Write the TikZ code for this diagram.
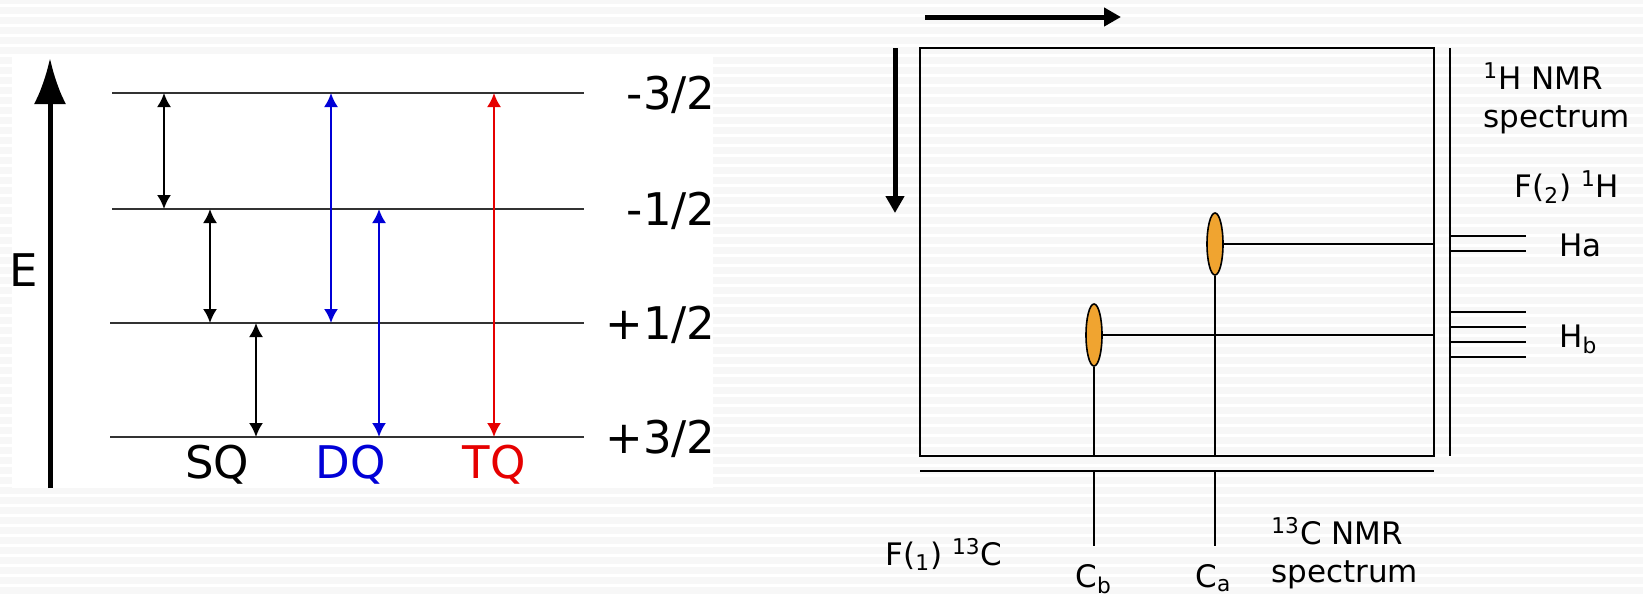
\documentclass[tikz,border=0pt]{standalone}
\usepackage{fontspec}
\setmainfont{DejaVu Sans}
\usetikzlibrary{arrows.meta,shapes.geometric}

\definecolor{stripe}{HTML}{F7F7F7}
\definecolor{lvgray}{HTML}{333333}
\definecolor{dqblue}{RGB}{0,0,215}
\definecolor{tqred}{RGB}{230,0,0}
\definecolor{peakorange}{HTML}{F0A430}

\tikzset{
  level/.style={lvgray,line width=1pt},
  trans/.style={<->,line width=1pt},
  lvlabel/.style={font=\fontsize{22.5}{27}\selectfont,inner sep=0pt},
  spec/.style={font=\fontsize{15.5}{19}\selectfont,inner sep=0pt,align=left},
  peak/.style={ellipse,draw,line width=0.8pt,fill=peakorange,minimum width=8pt,minimum height=31pt,inner sep=0pt},
  thickarrow/.style={line width=2.5pt,-{Triangle[length=8.5pt,width=9pt]}},
}

\begin{document}
\begin{tikzpicture}[>={Latex[length=7pt,width=7pt]},x=0.5pt,y=-0.5pt]
  \useasboundingbox (0,0) rectangle (1643,596);
  % striped background
  \fill[stripe] (0,0) rectangle (1643,596);
  \foreach \y in {5,15,...,595}{\draw[white,line width=1.5pt] (0,\y) -- (1643,\y);}

  % Energy levels with single, double and triple quantum transitions
  \begin{scope}
    \fill[white] (12,56) rectangle (713,488);
    \coordinate (ebot) at (50,488);
    \coordinate (etop) at (50,58);
    \draw[line width=2.5pt,-{Latex[length=23pt,width=16pt]}] (ebot) -- (etop);
    \node[lvlabel] (E) at (24,270) {E};
    \coordinate (lv1) at (112,93);
    \coordinate (lv2) at (112,209);
    \coordinate (lv3) at (110,323);
    \coordinate (lv4) at (110,437);
    \draw[level] (lv1) -- (584,93);
    \draw[level] (lv2) -- (584,209);
    \draw[level] (lv3) -- (584,323);
    \draw[level] (lv4) -- (584,437);
    \node[lvlabel,anchor=base east] (m32) at (716,109) {-3/2};
    \node[lvlabel,anchor=base east] (m12) at (716,225) {-1/2};
    \node[lvlabel,anchor=base east] (p12) at (716,339) {+1/2};
    \node[lvlabel,anchor=base east] (p32) at (716,453) {+3/2};
    \coordinate (sq1) at (164,0);
    \coordinate (sq2) at (210,0);
    \coordinate (sq3) at (256,0);
    \coordinate (dq1) at (331,0);
    \coordinate (dq2) at (379,0);
    \coordinate (tq1) at (494,0);
    \draw[trans] (sq1 |- lv1) -- (sq1 |- lv2);
    \draw[trans] (sq2 |- lv2) -- (sq2 |- lv3);
    \draw[trans] (sq3 |- lv3) -- (sq3 |- lv4);
    \draw[trans,dqblue] (dq1 |- lv1) -- (dq1 |- lv3);
    \draw[trans,dqblue] (dq2 |- lv2) -- (dq2 |- lv4);
    \draw[trans,tqred] (tq1 |- lv1) -- (tq1 |- lv4);
    \node[lvlabel,anchor=base] (SQ) at (217,478) {SQ};
    \node[lvlabel,anchor=base,dqblue] (DQ) at (351,478) {DQ};
    \node[lvlabel,anchor=base,tqred] (TQ) at (494,478) {TQ};
  \end{scope}

  % HSQC type 2D map
  \begin{scope}
    \coordinate (harr) at (925,17);
    \coordinate (harrend) at (1121,17);
    \coordinate (varr) at (895,48);
    \coordinate (varrend) at (895,213);
    \draw[thickarrow] (harr) -- (harrend);
    \draw[thickarrow] (varr) -- (varrend);
    \coordinate (boxnw) at (920,48);
    \coordinate (boxse) at (1434,456);
    \draw[line width=1.2pt] (boxnw) rectangle (boxse);
    \coordinate (haxtop) at (1450,48);
    \coordinate (haxbot) at (1450,456);
    \draw[line width=1pt] (haxtop) -- (haxbot);
    \coordinate (caxl) at (920,471);
    \coordinate (caxr) at (1434,471);
    \draw[line width=1pt] (caxl) -- (caxr);
    % cross peaks
    \node[peak] (pa) at (1215,244) {};
    \node[peak] (pb) at (1094,335) {};
    \draw[line width=0.9pt] (pa.east) -- (pa.east -| boxse);
    \draw[line width=0.9pt] (pb.east) -- (pb.east -| boxse);
    \draw[line width=0.9pt] (pa.south) -- (pa.south |- boxse);
    \draw[line width=0.9pt] (pb.south) -- (pb.south |- boxse);
    % 1H spectrum
    \foreach \y in {236,251}{\draw[line width=1pt] (1450,\y) -- ++(76,0);}
    \foreach \y in {312,327,342,357}{\draw[line width=1pt] (1450,\y) -- ++(76,0);}
    % 13C spectrum
    \draw[line width=0.9pt] (pb |- caxl) -- ++(0,75);
    \draw[line width=0.9pt] (pa |- caxl) -- ++(0,75);
    % labels (base of a two-line node is its last line)
    \node[spec,anchor=base west] (hnmr) at (1483,127) {\textsuperscript{1}H NMR\\spectrum};
    \node[spec,anchor=base west] (f2) at (1514,197) {F(\textsubscript{2}) \textsuperscript{1}H};
    \node[spec,anchor=base west] (ha) at (1559,256) {Ha};
    \node[spec,anchor=base west] (hb) at (1559,347) {H\textsubscript{b}};
    \node[spec,anchor=base west] (f1) at (885,565) {F(\textsubscript{1}) \textsuperscript{13}C};
    \node[spec,anchor=base west] (cb) at (1075,587) {C\textsubscript{b}};
    \node[spec,anchor=base west] (ca) at (1195,587) {C\textsubscript{a}};
    \node[spec,anchor=base west] (cnmr) at (1271,582) {\textsuperscript{13}C NMR\\spectrum};
  \end{scope}
\end{tikzpicture}
\end{document}
